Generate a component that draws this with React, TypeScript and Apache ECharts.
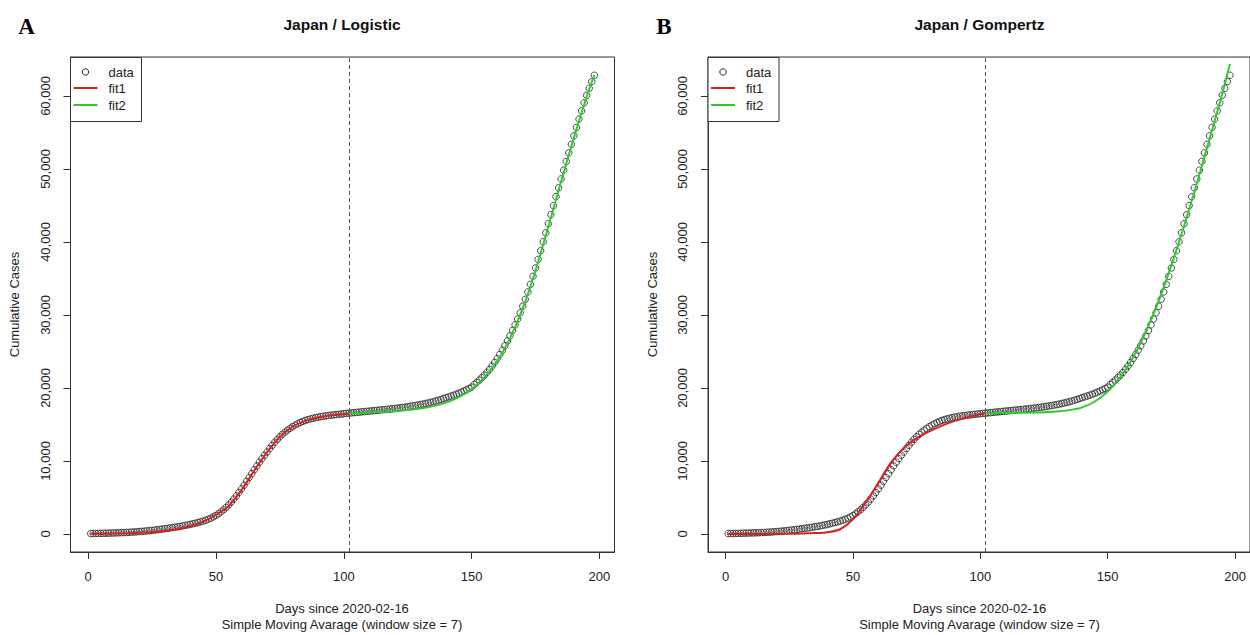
import { useEffect, useRef } from "react";
import * as echarts from "echarts";

// Cumulative cases (7-day simple moving average), day 1 .. 198 since 2020-02-16
const cases = [
  60, 65, 70, 78, 85, 95, 105, 115, 128, 140,
  152, 165, 180, 195, 212, 230, 252, 275, 300, 330,
  360, 392, 425, 460, 498, 538, 580, 625, 672, 720,
  770, 822, 875, 930, 988, 1048, 1110, 1175, 1245, 1320,
  1400, 1480, 1570, 1665, 1770, 1890, 2020, 2170, 2340, 2540,
  2770, 3030, 3320, 3640, 3990, 4370, 4780, 5220, 5690, 6180,
  6690, 7210, 7740, 8270, 8800, 9320, 9830, 10320, 10790, 11230,
  11700, 12150, 12570, 12960, 13320, 13650, 13950, 14230, 14480, 14710,
  14920, 15110, 15280, 15430, 15560, 15670, 15770, 15860, 15940, 16010,
  16070, 16130, 16180, 16230, 16280, 16320, 16360, 16400, 16440, 16480,
  16520, 16555, 16590, 16625, 16660, 16695, 16730, 16765, 16800, 16835,
  16870, 16905, 16940, 16975, 17010, 17045, 17080, 17120, 17160, 17200,
  17240, 17285, 17330, 17380, 17430, 17485, 17540, 17600, 17660, 17725,
  17795, 17870, 17950, 18035, 18125, 18220, 18320, 18430, 18550, 18680,
  18780, 18900, 19020, 19150, 19290, 19440, 19600, 19760, 19930, 20110,
  20480, 20770, 21080, 21410, 21760, 22140, 22560, 23010, 23500, 24030,
  24590, 25180, 25800, 26450, 27140, 27870, 28640, 29450, 30300, 31200,
  32150, 33150, 34200, 35300, 36440, 37610, 38810, 40030, 41260, 42500,
  43740, 44980, 46210, 47430, 48640, 49840, 51030, 52210, 53380, 54540,
  55690, 56830, 57960, 59070, 60100, 61060, 61970, 62840,
];
const days = cases.map((_, i) => i + 1);

const fitDaysEarly = [1, 5, 10, 15, 20, 25, 30, 35, 40, 45, 50, 55, 60, 65, 70, 75, 80, 85, 90, 95, 100, 102];
const fitDaysLate = [102, 105, 110, 115, 120, 125, 130, 135, 140, 145, 150, 155, 160, 165, 170, 175, 180, 185, 190, 195, 198];

const logisticFit1 = [20, 35, 60, 100, 165, 270, 440, 700, 1100, 1700, 2600, 3850, 6000, 8700, 11200, 13300, 14700, 15500, 15950, 16250, 16420, 16480];
const logisticFit2 = [16480, 16540, 16630, 16720, 16830, 16980, 17200, 17520, 18000, 18750, 19850, 21450, 23700, 26800, 30900, 36100, 42100, 48300, 54300, 59900, 62900];
const gompertzFit1 = [0, 0, 0, 5, 15, 30, 60, 120, 250, 650, 2000, 4300, 7000, 9800, 11800, 13100, 14050, 14850, 15500, 16000, 16400, 16550];
const gompertzFit2 = [16550, 16560, 16580, 16600, 16630, 16680, 16780, 16970, 17350, 18150, 19500, 21500, 24200, 27700, 31900, 36800, 42200, 48000, 54100, 60300, 64400];

const xTicks = [0, 50, 100, 150, 200];
const yTicks = [0, 10000, 20000, 30000, 40000, 50000, 60000];
const splitDay = 102;

const FONT = "'Liberation Sans', Arial, Helvetica, sans-serif";
const RED = "#d91f1f";
const GREEN = "#2fc92f";
const INK = "#222";

export default function App() {
  const ref = useRef<HTMLDivElement>(null);

  useEffect(() => {
    document.body.style.margin = "0";
    if (!ref.current) return;
    const chart = echarts.init(ref.current, undefined, { renderer: "svg" });

    const panels = [
      { letter: "A", title: "Japan / Logistic", fit1: logisticFit1, fit2: logisticFit2, left: 70.5 },
      { letter: "B", title: "Japan / Gompertz", fit1: gompertzFit1, fit2: gompertzFit2, left: 708 },
    ];
    const gridTop = 57;
    const gridW = 544;
    const gridH = 495;

    const grid: any[] = [];
    const xAxis: any[] = [];
    const yAxis: any[] = [];
    const series: any[] = [];
    const graphic: any[] = [];

    panels.forEach((p, i) => {
      grid.push({
        left: p.left, top: gridTop, width: gridW, height: gridH,
        show: true, borderColor: "#333", borderWidth: 1, backgroundColor: "transparent",
      });
      xAxis.push({
        type: "value", gridIndex: i, min: -6.88, max: 205.88,
        splitLine: { show: false },
        axisLine: { show: true, onZero: false, lineStyle: { color: "#333", width: 1 } },
        axisTick: { show: true, customValues: xTicks, length: 7, lineStyle: { color: "#333" } },
        axisLabel: { customValues: xTicks, margin: 18, fontSize: 13, color: INK, fontFamily: FONT },
      });
      yAxis.push({
        type: "value", gridIndex: i, min: -2466, max: 65342,
        splitLine: { show: false },
        axisLine: { show: true, onZero: false, lineStyle: { color: "#333", width: 1 } },
        axisTick: { show: true, customValues: yTicks, length: 7, lineStyle: { color: "#333" } },
        axisLabel: {
          customValues: yTicks, rotate: 90, margin: 19, fontSize: 13, color: INK, fontFamily: FONT,
          formatter: (v: number) => v.toLocaleString("en-US"),
        },
      });
      series.push({
        name: "data", type: "scatter", xAxisIndex: i, yAxisIndex: i,
        data: days.map((d, k) => [d, cases[k]]),
        symbol: "circle", symbolSize: 6.5,
        itemStyle: { color: "rgba(0,0,0,0)", borderColor: INK, borderWidth: 1 },
        z: 2,
        markLine: {
          silent: true, symbol: ["none", "none"], label: { show: false },
          lineStyle: { color: "#555", width: 1, type: [4, 3] },
          data: [{ xAxis: splitDay }],
        },
      });
      series.push({
        name: "fit1", type: "line", xAxisIndex: i, yAxisIndex: i,
        data: fitDaysEarly.map((d, k) => [d, p.fit1[k]]),
        showSymbol: false, symbol: "none", smooth: 0.3,
        lineStyle: { color: RED, width: 2 }, itemStyle: { color: RED }, z: 3,
      });
      series.push({
        name: "fit2", type: "line", xAxisIndex: i, yAxisIndex: i,
        data: fitDaysLate.map((d, k) => [d, p.fit2[k]]),
        showSymbol: false, symbol: "none", smooth: 0.3,
        lineStyle: { color: GREEN, width: 2 }, itemStyle: { color: GREEN }, z: 3,
      });

      const cx = p.left + gridW / 2 - 0.5;
      const lx = p.left;
      graphic.push(
        { type: "text", x: p.left - 44, y: 26, style: { text: p.letter, fontSize: 23, fontWeight: "bold", fontFamily: "'Liberation Serif', 'Times New Roman', serif", fill: "#000", align: "center", verticalAlign: "middle" } },
        { type: "text", x: cx, y: 24, style: { text: p.title, fontSize: 15.5, fontWeight: "bold", fontFamily: FONT, fill: "#111", align: "center", verticalAlign: "middle" } },
        { type: "text", x: cx, y: 608, style: { text: "Days since 2020-02-16", fontSize: 13, fontFamily: FONT, fill: INK, align: "center", verticalAlign: "middle" } },
        { type: "text", x: cx, y: 624, style: { text: "Simple Moving Avarage (window size = 7)", fontSize: 13, fontFamily: FONT, fill: INK, align: "center", verticalAlign: "middle" } },
        { type: "text", x: p.left - 56, y: gridTop + gridH / 2, rotation: Math.PI / 2, style: { text: "Cumulative Cases", fontSize: 13, fontFamily: FONT, fill: INK, align: "center", verticalAlign: "middle" } },
        // legend box
        { type: "rect", shape: { x: lx, y: gridTop + 0.5, width: 71, height: 64 }, style: { fill: "#fff", stroke: "#333", lineWidth: 1 }, z: 10 },
        { type: "circle", shape: { cx: lx + 15, cy: gridTop + 15, r: 3.2 }, style: { fill: "none", stroke: INK, lineWidth: 1 }, z: 11 },
        { type: "text", x: lx + 38, y: gridTop + 15, style: { text: "data", fontSize: 13, fontFamily: FONT, fill: INK, verticalAlign: "middle" }, z: 11 },
        { type: "line", shape: { x1: lx + 3, y1: gridTop + 31, x2: lx + 27, y2: gridTop + 31 }, style: { stroke: RED, lineWidth: 2 }, z: 11 },
        { type: "text", x: lx + 38, y: gridTop + 31, style: { text: "fit1", fontSize: 13, fontFamily: FONT, fill: INK, verticalAlign: "middle" }, z: 11 },
        { type: "line", shape: { x1: lx + 3, y1: gridTop + 48, x2: lx + 27, y2: gridTop + 48 }, style: { stroke: GREEN, lineWidth: 2 }, z: 11 },
        { type: "text", x: lx + 38, y: gridTop + 48, style: { text: "fit2", fontSize: 13, fontFamily: FONT, fill: INK, verticalAlign: "middle" }, z: 11 },
      );
    });

    chart.setOption({
      animation: false,
      backgroundColor: "#fff",
      grid, xAxis, yAxis, series, graphic,
    });

    return () => chart.dispose();
  }, []);

  return <div ref={ref} style={{ width: 1250, height: 635 }} />;
}
